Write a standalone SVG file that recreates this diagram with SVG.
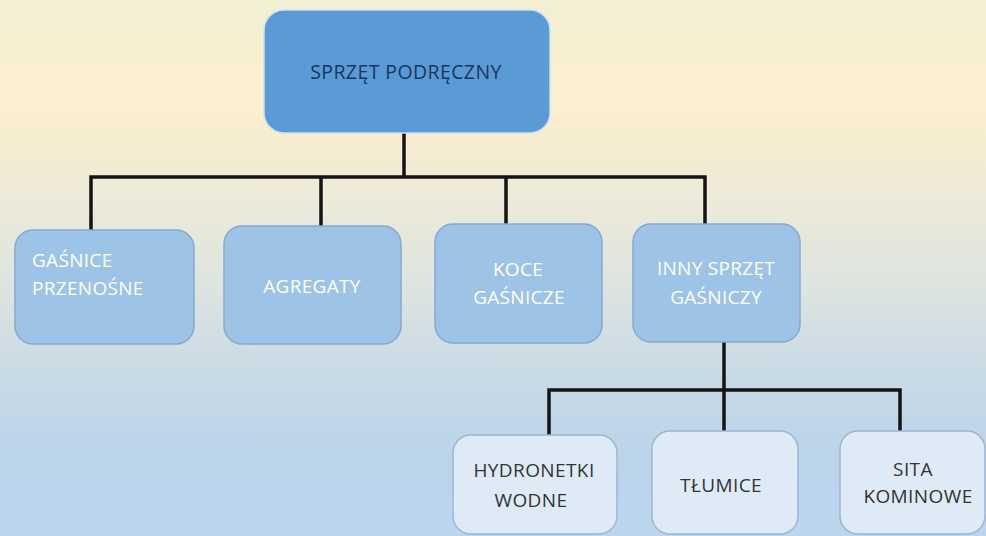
<svg xmlns="http://www.w3.org/2000/svg" width="986" height="536" viewBox="0 0 986 536">
<defs>
<linearGradient id="bg" x1="0" y1="0" x2="0" y2="1">
<stop offset="0" stop-color="#f3efd3"/>
<stop offset="0.2" stop-color="#fdf0d0"/>
<stop offset="0.24" stop-color="#f8edcf"/>
<stop offset="0.35" stop-color="#efebd8"/>
<stop offset="0.55" stop-color="#dce3e0"/>
<stop offset="0.7" stop-color="#c8dae6"/>
<stop offset="0.85" stop-color="#bcd4ea"/>
<stop offset="1" stop-color="#bbd6ee"/>
</linearGradient>
<style>
.top{fill:#5b9bd5;stroke:#cfe0ef;stroke-width:1.5}
.mid{fill:#9dc3e6;stroke:#86a9d0;stroke-width:1.5}
.low{fill:#deebf7;stroke:#9cb6d2;stroke-width:1.5}
.t{font-family:"Open Sans","Liberation Sans",sans-serif;text-anchor:middle}
.tt{font-size:19.5px;font-weight:500;fill:#1a3560;letter-spacing:0.4px}
.tm{font-size:19px;fill:#ffffff;letter-spacing:0.3px;font-weight:500}
.tl{font-size:19px;fill:#333333;letter-spacing:0.4px;font-weight:500}
.c{fill:none;stroke:#141414;stroke-width:3.5;stroke-linecap:square}
</style>
</defs>
<rect width="986" height="536" fill="url(#bg)"/>
<g id="connectors">
<path class="c" d="M404 133V177M91 230V177H705V224M321 177V226M506 177V224"/>
<path class="c" d="M724 342V390M549 435V390H900V431M724 390V431"/>
</g>
<g id="n-sprzet">
<rect class="top" x="264" y="10" width="286" height="123" rx="20"/>
<text class="t tt" x="406" y="79">SPRZĘT PODRĘCZNY</text>
</g>
<g id="n-gasnice">
<rect class="mid" x="15" y="230" width="179" height="114" rx="18"/>
<text class="t tm" x="32" y="267" style="text-anchor:start">GAŚNICE</text>
<text class="t tm" x="32" y="295" style="text-anchor:start">PRZENOŚNE</text>
</g>
<g id="n-agregaty">
<rect class="mid" x="224" y="226" width="177" height="118" rx="18"/>
<text class="t tm" x="312" y="293">AGREGATY</text>
</g>
<g id="n-koce">
<rect class="mid" x="435" y="224" width="167" height="119" rx="18"/>
<text class="t tm" x="518" y="276">KOCE</text>
<text class="t tm" x="519" y="304">GAŚNICZE</text>
</g>
<g id="n-inny">
<rect class="mid" x="633" y="224" width="167" height="118" rx="18"/>
<text class="t tm" x="716" y="275">INNY SPRZĘT</text>
<text class="t tm" x="716" y="304">GAŚNICZY</text>
</g>
<g id="n-hydronetki">
<rect class="low" x="453" y="435" width="164" height="99" rx="18"/>
<text class="t tl" x="534" y="477">HYDRONETKI</text>
<text class="t tl" x="531" y="507">WODNE</text>
</g>
<g id="n-tlumice">
<rect class="low" x="652" y="431" width="146" height="103" rx="18"/>
<text class="t tl" x="721" y="492">TŁUMICE</text>
</g>
<g id="n-sita">
<rect class="low" x="840" y="431" width="145" height="103" rx="18"/>
<text class="t tl" x="913" y="476">SITA</text>
<text class="t tl" x="918" y="503">KOMINOWE</text>
</g>
</svg>
